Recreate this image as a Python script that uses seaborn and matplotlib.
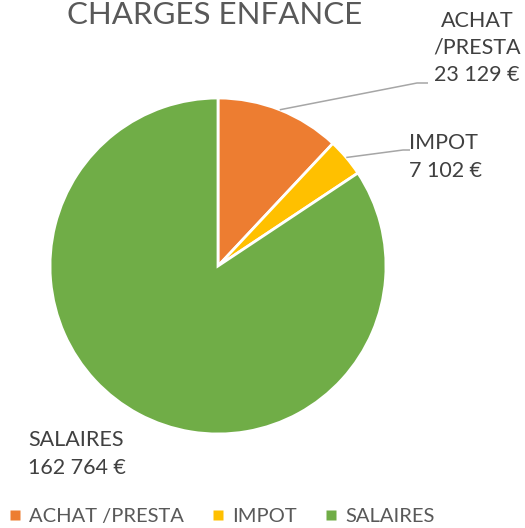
import numpy as np
import matplotlib
matplotlib.use("Agg")
import matplotlib.pyplot as plt
from matplotlib.lines import Line2D
import seaborn as sns

categories = ["ACHAT /PRESTA", "IMPOT", "SALAIRES"]
label_names = ["ACHAT\n/PRESTA", "IMPOT", "SALAIRES"]
values = [23129, 7102, 162764]
value_labels = ["23 129 €", "7 102 €", "162 764 €"]
colors = ["#ED7D31", "#FFC000", "#70AD47"]

sns.set_theme(style="white")
plt.rcParams["font.family"] = ["Lato", "DejaVu Sans"]

W, H = 525, 528
fig = plt.figure(figsize=(W / 100, H / 100), dpi=100)


def fx(px):
    return px / W


def fy(py):
    return 1 - py / H


# pie centre (218, 266), radius 168 px
cx, cy, r = 218, 266, 168
ax = fig.add_axes([fx(cx - r), fy(cy + r), 2 * r / W, 2 * r / H])
wedges, _ = ax.pie(values, colors=colors, startangle=90, counterclock=False,
                   radius=1, wedgeprops=dict(edgecolor="white", linewidth=2))
ax.set_xlim(-1, 1)
ax.set_ylim(-1, 1)
ax.set_aspect("equal")
ax.axis("off")

# leader lines (elbow/end in px)
leaders = {0: ((417, 83), (428, 83)), 1: ((403, 150), (410, 150))}
for i, (elbow, end) in leaders.items():
    w = wedges[i]
    ang = np.deg2rad((w.theta1 + w.theta2) / 2)
    x0, y0 = np.cos(ang), np.sin(ang)
    ex, ey = (elbow[0] - cx) / r, (cy - elbow[1]) / r
    nx, ny = (end[0] - cx) / r, (cy - end[1]) / r
    ax.plot([x0, ex, nx], [y0, ey, ny], color="#A6A6A6", lw=1.1,
            clip_on=False, solid_capstyle="butt")

txt_color = "#404040"
fs = 15.5
fig.text(fx(477), fy(48), f"{label_names[0]}\n{value_labels[0]}", ha="center",
         va="center", multialignment="center", fontsize=fs, color=txt_color,
         linespacing=1.45)
fig.text(fx(409), fy(157), f"{label_names[1]}\n{value_labels[1]}", ha="left",
         va="center", fontsize=fs, color=txt_color, linespacing=1.45)
fig.text(fx(28), fy(454), f"{label_names[2]}\n{value_labels[2]}", ha="left",
         va="center", fontsize=fs, color=txt_color, linespacing=1.45)

fig.text(fx(215), fy(15), "CHARGES ENFANCE", ha="center", va="center",
         fontsize=22.5, color="#595959")

handles = [Line2D([], [], ls="none", marker="s", markersize=7.2,
                  markerfacecolor=c, markeredgecolor="none") for c in colors]
leg = fig.legend(handles, categories, loc="center", bbox_to_anchor=(fx(222), fy(516)),
                 ncol=3, frameon=False, fontsize=14.5, handlelength=0.5,
                 handletextpad=0.45, columnspacing=1.45,
                 labelcolor="#595959")

fig.savefig("out.png", dpi=100)
